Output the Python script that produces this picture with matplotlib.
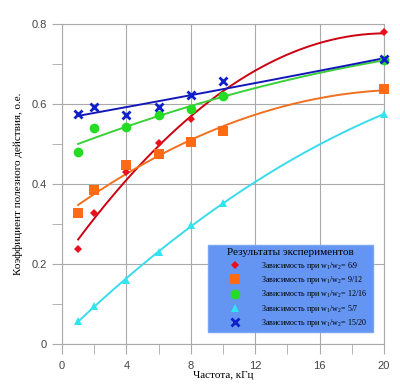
import numpy as np
import matplotlib
matplotlib.use("Agg")
import matplotlib.pyplot as plt

plt.rcParams["mathtext.fontset"] = "custom"
plt.rcParams["mathtext.rm"] = "Liberation Serif"
plt.rcParams["mathtext.it"] = "Liberation Serif:italic"

# Экспериментальные данные
freq = [1, 2, 4, 6, 8, 10, 20]
eff_6_9 = [0.237, 0.327, 0.431, 0.503, 0.564, 0.618, 0.780]
eff_9_12 = [0.327, 0.385, 0.447, 0.474, 0.506, 0.533, 0.637]
eff_12_16 = [0.481, 0.540, 0.542, 0.572, 0.588, 0.620, 0.710]
eff_5_7 = [0.057, 0.095, 0.160, 0.230, 0.297, 0.352, 0.575]
eff_15_20 = [0.575, 0.592, 0.572, 0.593, 0.622, 0.657, 0.712]

ratios = ["6/9", "9/12", "12/16", "5/7", "15/20"]
series = [eff_6_9, eff_9_12, eff_12_16, eff_5_7, eff_15_20]
markers = ["D", "s", "o", "^", "x"]
msizes = [4.5, 7, 7, 5.5, 6]
mcolors = ["#E8101C", "#FF6A14", "#22DD22", "#30E4F0", "#1020C8"]
lcolors = ["#CC0010", "#F07020", "#3AD03A", "#38DCEC", "#1418B8"]

xticks = [0, 4, 8, 12, 16, 20]
yticks = [0, 0.2, 0.4, 0.6, 0.8]
xtick_labels = ["0", "4", "8", "12", "16", "20"]
ytick_labels = ["0", "0.2", "0.4", "0.6", "0.8"]

fig = plt.figure(figsize=(4, 3.9), dpi=100)
ax = fig.add_axes([0.155, 0.118, 0.805, 0.82])

xs = np.linspace(1, 20, 200)
handles = []
for y, m, ms, mc, lc, r in zip(series, markers, msizes, mcolors, lcolors, ratios):
    # полиномиальный тренд 2-й степени
    p = np.polyfit(freq, y, 2)
    ax.plot(xs, np.polyval(p, xs), color=lc, lw=1.4, zorder=2)
    mew = 2 if m == "x" else 0
    h, = ax.plot(freq, y, ls="none", marker=m, ms=ms, color=mc, mec=mc,
                 mew=mew, clip_on=False, zorder=3,
                 label="Зависимость при w$_1$/w$_2$= " + r)
    handles.append(h)

ax.set_xlim(0, 20)
ax.set_ylim(0, 0.8)
ax.set_xticks(xticks, xtick_labels)
ax.set_yticks(yticks, ytick_labels)
ax.set_xticks(np.arange(2, 20, 4), minor=True)
ax.set_yticks(np.arange(0.1, 0.8, 0.2), minor=True)
ax.tick_params(which="both", direction="out", length=7, color="#aaaaaa",
               labelsize=8, labelcolor="#444444")
ax.tick_params(axis="x", which="major", pad=5)
ax.tick_params(axis="y", which="major", pad=4)
for lab in ax.get_xticklabels() + ax.get_yticklabels():
    lab.set_family("Liberation Sans")
ax.grid(True, which="major", color="#aaaaaa", lw=0.8)
for s in ax.spines.values():
    s.set_color("#aaaaaa")
    s.set_linewidth(0.8)

ax.set_xlabel("Частота, кГц", family="Liberation Serif", fontsize=8, labelpad=0)
ax.set_ylabel("Коэффициент полезного действия, о.е.", family="Liberation Serif",
              fontsize=8, labelpad=6)

leg = ax.legend(handles=handles, title="Результаты экспериментов",
                loc="lower left", bbox_to_anchor=(0.453, 0.0375, 0.513, 0.27),
                mode="expand", prop={"family": "Liberation Serif", "size": 5.8},
                title_fontproperties={"family": "Liberation Serif", "size": 8},
                frameon=True, fancybox=False, framealpha=1, borderpad=0.35,
                labelspacing=0.3, handletextpad=0.3, handlelength=6,
                borderaxespad=0)
leg.get_frame().set_facecolor("#6595F2")
leg.get_frame().set_edgecolor("#7aa4f4")
leg.set_zorder(5)

fig.savefig("out.png", dpi=100)
